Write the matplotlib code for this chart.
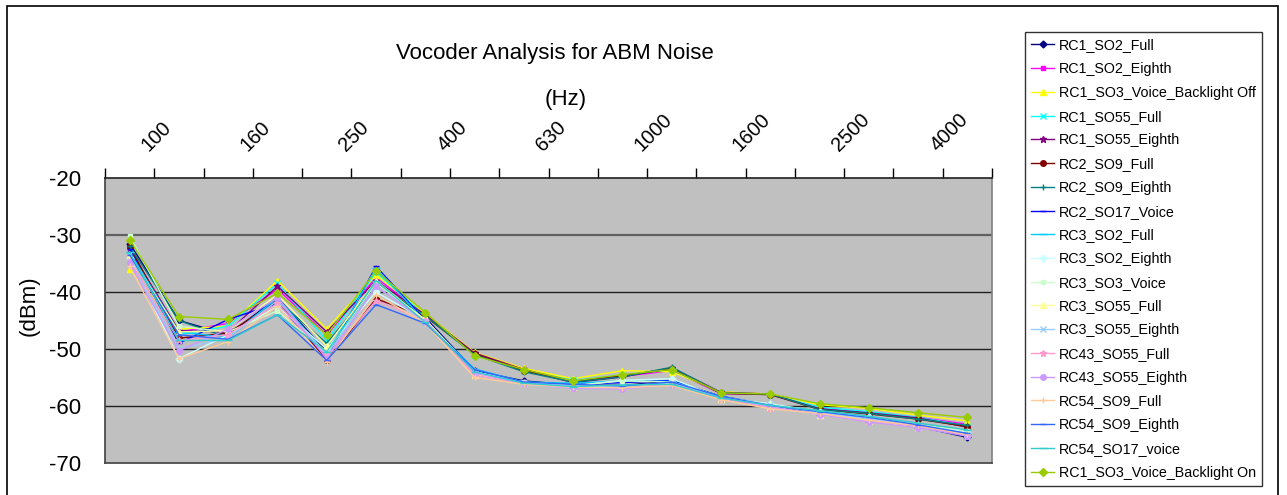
import matplotlib
matplotlib.use("Agg")
import matplotlib.pyplot as plt
from matplotlib.patches import Rectangle
from matplotlib.transforms import ScaledTranslation, blended_transform_factory

plt.rcParams['font.family'] = ['Liberation Sans', 'DejaVu Sans']

# --- data ---
freqs = ["100", "125", "160", "200", "250", "315", "400", "500", "630",
         "800", "1000", "1250", "1600", "2000", "2500", "3150", "4000", "5000"]

names = ["RC1_SO2_Full", "RC1_SO2_Eighth", "RC1_SO3_Voice_Backlight Off",
         "RC1_SO55_Full", "RC1_SO55_Eighth", "RC2_SO9_Full", "RC2_SO9_Eighth",
         "RC2_SO17_Voice", "RC3_SO2_Full", "RC3_SO2_Eighth", "RC3_SO3_Voice",
         "RC3_SO55_Full", "RC3_SO55_Eighth", "RC43_SO55_Full", "RC43_SO55_Eighth",
         "RC54_SO9_Full", "RC54_SO9_Eighth", "RC54_SO17_voice",
         "RC1_SO3_Voice_Backlight On"]

rc1_so2_full = [-31.5, -45.0, -47.5, -41.0, -50.5, -38.5, -44.5, -53.8, -55.6, -56.3, -56.4, -55.6, -58.3, -59.8, -61.4, -62.7, -63.6, -65.5]
rc1_so2_eighth = [-33.0, -47.0, -45.5, -39.5, -47.5, -37.5, -44.0, -50.8, -53.5, -55.8, -54.8, -53.8, -57.8, -58.0, -60.4, -61.3, -62.0, -63.2]
rc1_so3_bl_off = [-36.0, -46.5, -46.0, -38.0, -46.5, -37.0, -43.8, -50.6, -53.4, -55.2, -53.8, -54.0, -57.5, -57.9, -59.8, -60.4, -61.6, -62.6]
rc1_so55_full = [-33.5, -47.5, -46.0, -38.5, -48.5, -36.5, -44.2, -51.0, -53.8, -55.5, -54.6, -53.6, -57.7, -58.0, -60.2, -61.0, -62.0, -63.5]
rc1_so55_eighth = [-32.5, -46.8, -47.0, -39.0, -47.0, -38.0, -44.0, -50.7, -53.6, -55.9, -54.9, -53.3, -57.6, -57.9, -60.5, -61.2, -62.1, -63.7]
rc2_so9_full = [-32.0, -48.1, -47.2, -41.5, -52.0, -41.2, -44.3, -50.9, -53.8, -55.7, -54.7, -53.5, -57.8, -58.0, -60.6, -61.4, -62.3, -63.6]
rc2_so9_eighth = [-32.0, -45.0, -48.0, -41.5, -49.0, -38.5, -44.2, -51.0, -54.0, -55.8, -54.9, -53.2, -57.7, -57.9, -60.6, -61.3, -62.3, -63.4]
rc2_so17_voice = [-32.5, -49.0, -44.8, -42.0, -51.5, -35.5, -45.0, -53.8, -55.8, -56.2, -55.9, -55.5, -58.5, -59.8, -61.0, -62.2, -63.3, -64.9]
rc3_so2_full = [-33.0, -47.0, -48.0, -41.0, -51.0, -35.8, -45.2, -53.5, -55.8, -56.0, -55.6, -55.7, -58.3, -59.8, -60.9, -61.8, -63.5, -65.0]
rc3_so2_eighth = [-34.0, -51.7, -47.5, -42.5, -50.0, -40.0, -45.0, -54.0, -56.0, -56.5, -55.5, -55.2, -58.6, -59.6, -61.0, -62.0, -63.3, -64.6]
rc3_so3_voice = [-30.2, -46.0, -47.0, -43.3, -50.5, -38.5, -44.8, -54.0, -55.8, -56.4, -55.6, -55.8, -58.4, -59.7, -61.2, -62.3, -63.3, -64.3]
rc3_so55_full = [-33.5, -47.0, -46.8, -40.5, -49.5, -38.0, -45.0, -54.5, -56.0, -56.7, -56.5, -56.0, -58.8, -60.2, -61.5, -62.7, -63.7, -65.0]
rc3_so55_eighth = [-34.5, -50.0, -48.0, -41.5, -51.0, -39.0, -45.3, -54.0, -55.9, -56.5, -56.5, -55.9, -58.5, -59.8, -61.2, -62.3, -63.5, -65.1]
rc43_so55_full = [-34.5, -48.5, -47.5, -42.0, -51.3, -41.5, -45.0, -54.6, -56.0, -56.8, -56.9, -56.2, -58.7, -60.3, -61.4, -62.6, -63.5, -65.2]
rc43_so55_eighth = [-35.0, -50.3, -46.5, -41.0, -51.7, -39.0, -45.2, -54.2, -56.1, -56.9, -57.0, -56.3, -58.6, -60.1, -61.5, -62.8, -63.8, -65.3]
rc54_so9_full = [-35.5, -51.7, -48.7, -42.5, -52.2, -40.5, -45.5, -55.0, -56.2, -56.7, -56.8, -56.4, -58.9, -60.5, -61.3, -62.5, -63.4, -65.0]
rc54_so9_eighth = [-33.5, -47.5, -48.3, -44.0, -52.0, -42.2, -45.5, -53.6, -55.8, -56.2, -56.5, -55.8, -58.3, -59.9, -61.0, -62.0, -63.3, -64.8]
rc54_so17_voice = [-33.0, -48.5, -48.5, -44.0, -50.5, -38.0, -45.3, -54.0, -56.0, -56.6, -56.3, -56.2, -58.6, -59.9, -60.8, -61.8, -63.0, -64.2]
rc1_so3_bl_on = [-30.8, -44.3, -44.8, -40.2, -47.5, -36.3, -43.6, -51.2, -53.6, -55.6, -54.5, -53.6, -57.7, -57.9, -59.6, -60.3, -61.2, -62.0]

series = [rc1_so2_full, rc1_so2_eighth, rc1_so3_bl_off, rc1_so55_full, rc1_so55_eighth,
          rc2_so9_full, rc2_so9_eighth, rc2_so17_voice, rc3_so2_full, rc3_so2_eighth,
          rc3_so3_voice, rc3_so55_full, rc3_so55_eighth, rc43_so55_full, rc43_so55_eighth,
          rc54_so9_full, rc54_so9_eighth, rc54_so17_voice, rc1_so3_bl_on]

# Excel-ish line palette and markers
colors = ["#000080", "#FF00FF", "#FFFF00", "#00FFFF", "#800080", "#800000", "#008080",
          "#0000FF", "#00CCFF", "#CCFFFF", "#CCFFCC", "#FFFF99", "#99CCFF", "#FF99CC",
          "#CC99FF", "#FFCC99", "#3366FF", "#33CCCC", "#99CC00"]
markers = ["D", "s", "^", "x", "*", "o", "+", "_", "_", "D", "s", "^", "x", "*",
           "o", "+", "_", "_", "D"]
msizes = [3.5, 3.5, 4.5, 4.5, 5, 4, 5, 4, 6, 3.5, 3.5, 4.5, 4.5, 5, 4, 5, 4, 6, 4]

fig = plt.figure(figsize=(12.87, 4.95), dpi=100)
ax = fig.add_axes([105 / 1287, 1 - 463 / 495, 887 / 1287, 285 / 495])
ax.set_facecolor("#C0C0C0")

x = list(range(len(freqs)))
for name, vals, c, m, ms in zip(names, series, colors, markers, msizes):
    ax.plot(x, vals, color=c, lw=1.0, marker=m, markersize=ms,
            markeredgewidth=1.0, label=name)

ax.set_xlim(-0.5, len(freqs) - 0.5)
ax.set_ylim(-70, -20)

# y axis
ax.set_yticks([-70, -60, -50, -40, -30, -20])
ax.set_yticklabels(["-70", "-60", "-50", "-40", "-30", "-20"])
ax.tick_params(axis='y', length=0, pad=17, labelsize=16)
for yv in [-30, -40, -50, -60]:
    ax.axhline(yv, color="#202020" if yv != -30 else "#606060",
               lw=1.0 if yv != -30 else 1.6, zorder=1)

# x axis on top: ticks at category boundaries, labels at every other category
ax.xaxis.tick_top()
ax.set_xticks([i - 0.5 for i in range(len(freqs) + 1)])
ax.set_xticklabels([])
ax.tick_params(axis='x', which='major', top=True, bottom=False, length=7,
               width=1.0, color="black", direction='out')
lab_tr = blended_transform_factory(ax.transData, ax.transAxes) + \
    ScaledTranslation(0.19, 0.26, fig.dpi_scale_trans)
for i in x[::2]:
    ax.text(i, 1.0, freqs[i], transform=lab_tr, rotation=45,
            rotation_mode='anchor', ha='left', va='baseline', fontsize=14.5,
            clip_on=False)

for side, col in [("top", "#202020"), ("left", "#404040"),
                  ("right", "#808080"), ("bottom", "#404040")]:
    ax.spines[side].set_color(col)
    ax.spines[side].set_linewidth(1.2)

fig.text(555 / 1287, 1 - 54 / 495, "Vocoder Analysis for ABM Noise",
         ha='center', va='center', fontsize=16)
fig.text(566 / 1287, 1 - 99 / 495, "(Hz)", ha='center', va='center', fontsize=16)
fig.text(29 / 1287, 1 - 306 / 495, "(dBm)", ha='center', va='center',
         rotation=90, fontsize=16)

leg = fig.legend(loc='upper left', bbox_to_anchor=(1025 / 1287, 1 - 32 / 495),
                 fontsize=10.3, frameon=True, fancybox=False, edgecolor="black",
                 handlelength=1.6, handletextpad=0.3, labelspacing=0.68,
                 borderpad=0.45, borderaxespad=0)
leg.get_frame().set_linewidth(1.0)

# outer chart border
fig.patches.append(Rectangle((7 / 1287, -0.02), 1271 / 1287, 1 - 6 / 495 + 0.02,
                             transform=fig.transFigure, fill=False,
                             edgecolor="black", lw=1.2))

plt.savefig("out.png", dpi=100)
plt.close()
